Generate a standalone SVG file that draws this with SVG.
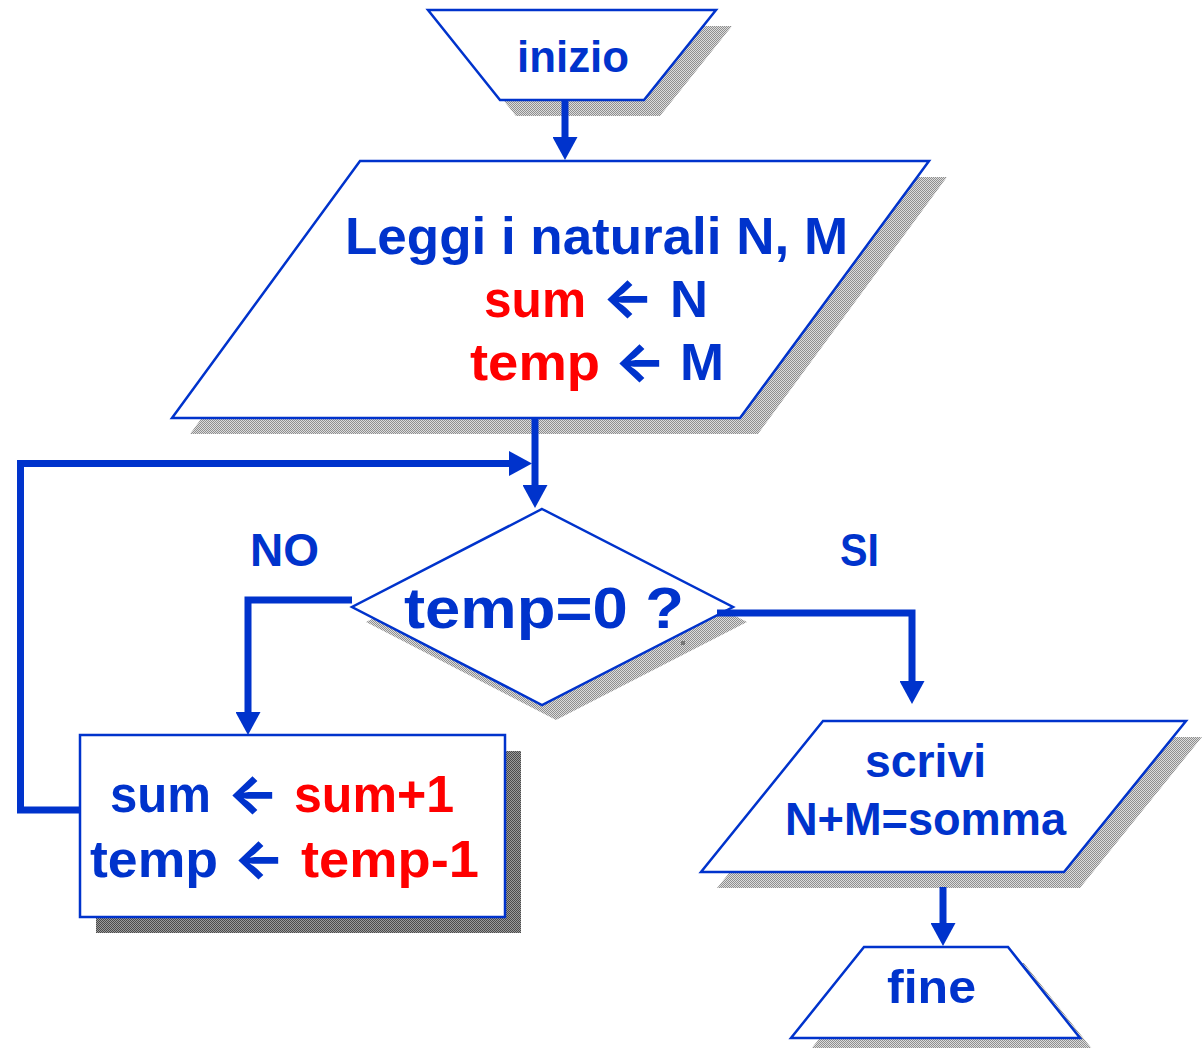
<svg xmlns="http://www.w3.org/2000/svg" width="1202" height="1048" viewBox="0 0 1202 1048">
  <defs>
    <!-- dithered drop shadows -->
    <pattern id="dotsLight" width="2" height="2" patternUnits="userSpaceOnUse">
      <rect width="2" height="2" fill="#dcdcdc"/>
      <rect width="1" height="1" fill="#8f8f8f"/>
      <rect x="1" y="1" width="1" height="1" fill="#8f8f8f"/>
    </pattern>
    <pattern id="dotsDark" width="2" height="2" patternUnits="userSpaceOnUse">
      <rect width="2" height="2" fill="#9a9a9a"/>
      <rect width="1" height="1" fill="#4a4a4a"/>
      <rect x="1" y="1" width="1" height="1" fill="#4a4a4a"/>
    </pattern>
    <marker id="head" viewBox="0 0 23 25" refX="0" refY="12.5" markerWidth="23" markerHeight="25" markerUnits="userSpaceOnUse" orient="auto">
      <path d="M0,0 L23,12.5 L0,25 Z" fill="#0033CC"/>
    </marker>
  </defs>
  <style>
    .shape { fill: #ffffff; stroke: #0033CC; stroke-width: 2.5; stroke-linejoin: miter; }
    .shadow { fill: url(#dotsLight); }
    .shadowDark { fill: url(#dotsDark); }
    .t { font-family: "Liberation Sans", Arial, sans-serif; font-weight: bold; }
    .arr { font-family: Inter, "DejaVu Sans", sans-serif; font-weight: 800; }
    .b { fill: #0033CC; }
    .r { fill: #FF0000; }
    .link { fill: none; stroke: #0033CC; stroke-width: 7; stroke-linejoin: miter; marker-end: url(#head); }
  </style>
  <rect width="1202" height="1048" fill="#ffffff"/>

  <!-- start terminal -->
  <g id="inizio">
    <polygon class="shadow" points="444,26 732,26 660,116 516,116"/>
    <polygon class="shape" points="428,10 716,10 644,100 500,100"/>
    <text class="t b" x="517" y="72" font-size="44" textLength="112" lengthAdjust="spacingAndGlyphs">inizio</text>
  </g>

  <!-- input / initialisation -->
  <g id="leggi">
    <polygon class="shadow" points="378,177 947,177 758,434 190,434"/>
    <polygon class="shape" points="360,161 929,161 740,418 172,418"/>
    <text class="t b" x="345" y="254" font-size="52" textLength="503" lengthAdjust="spacingAndGlyphs">Leggi i naturali N, M</text>
    <text class="t r" x="484" y="317" font-size="52" textLength="102" lengthAdjust="spacingAndGlyphs">sum</text>
    <text class="arr b" x="602" y="316" font-size="52" textLength="52" lengthAdjust="spacingAndGlyphs">←</text>
    <text class="t b" x="670" y="317" font-size="52" textLength="38" lengthAdjust="spacingAndGlyphs">N</text>
    <text class="t r" x="470" y="380" font-size="52" textLength="130" lengthAdjust="spacingAndGlyphs">temp</text>
    <text class="arr b" x="614" y="380" font-size="52" textLength="52" lengthAdjust="spacingAndGlyphs">←</text>
    <text class="t b" x="680" y="380" font-size="52" textLength="44" lengthAdjust="spacingAndGlyphs">M</text>
  </g>

  <!-- loop test -->
  <g id="test">
    <polygon class="shadow" points="556,524 747,622 556,720 366,622"/>
    <polygon class="shape" points="542,509 733,607 542,705 352,607"/>
    <rect x="681" y="641" width="4" height="4" fill="#777777"/>
    <text class="t b" x="404" y="628" font-size="57" textLength="280" lengthAdjust="spacingAndGlyphs">temp=0 ?</text>
  </g>

  <!-- loop body -->
  <g id="corpo">
    <rect class="shadowDark" x="96" y="751" width="425" height="182"/>
    <rect class="shape" x="80" y="735" width="425" height="182"/>
    <text class="t b" x="110" y="812" font-size="52" textLength="101" lengthAdjust="spacingAndGlyphs">sum</text>
    <text class="arr b" x="227" y="812" font-size="52" textLength="52" lengthAdjust="spacingAndGlyphs">←</text>
    <text class="t r" x="294" y="812" font-size="52" textLength="160" lengthAdjust="spacingAndGlyphs">sum+1</text>
    <text class="t b" x="90" y="877" font-size="52" textLength="128" lengthAdjust="spacingAndGlyphs">temp</text>
    <text class="arr b" x="233" y="877" font-size="52" textLength="52" lengthAdjust="spacingAndGlyphs">←</text>
    <text class="t r" x="301" y="877" font-size="52" textLength="178" lengthAdjust="spacingAndGlyphs">temp-1</text>
  </g>

  <!-- output -->
  <g id="scrivi">
    <polygon class="shadow" points="839,737 1202,737 1080,888 717,888"/>
    <polygon class="shape" points="823,721 1186,721 1064,872 701,872"/>
    <text class="t b" x="865" y="777" font-size="47" textLength="121" lengthAdjust="spacingAndGlyphs">scrivi</text>
    <text class="t b" x="785" y="835" font-size="47" textLength="281" lengthAdjust="spacingAndGlyphs">N+M=somma</text>
  </g>

  <!-- end terminal -->
  <g id="fine">
    <polygon class="shadow" points="880,963 1024,963 1096,1054 807,1054"/>
    <polygon class="shape" points="864,947 1008,947 1080,1038 791,1038"/>
    <text class="t b" x="887" y="1003" font-size="47" textLength="89" lengthAdjust="spacingAndGlyphs">fine</text>
  </g>

  <!-- branch labels -->
  <text id="label-no" class="t b" x="250" y="566" font-size="46" textLength="69" lengthAdjust="spacingAndGlyphs">NO</text>
  <text id="label-si" class="t b" x="840" y="566" font-size="46" textLength="39" lengthAdjust="spacingAndGlyphs">SI</text>

  <!-- connectors -->
  <g id="connectors">
    <path class="link" d="M565,100 V137"/>
    <path class="link" d="M535,418 V485"/>
    <path class="link" d="M80,810 H20.5 V463.5 H509"/>
    <path class="link" d="M352,600 H248 V712"/>
    <path class="link" d="M717,613 H912 V681"/>
    <path class="link" d="M943,887 V923"/>
  </g>
</svg>
